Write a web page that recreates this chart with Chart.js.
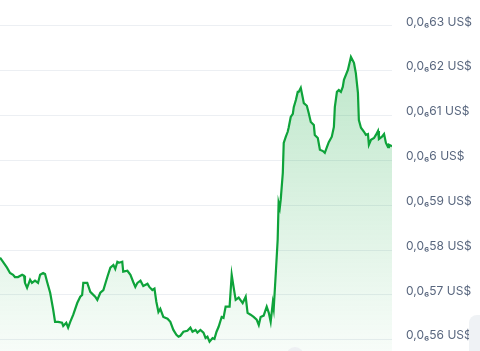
<!DOCTYPE html>
<html>
<head>
<meta charset="utf-8">
<script src="https://cdn.jsdelivr.net/npm/chart.js@4"></script>
<style>
    html, body { margin: 0; padding: 0; background: #fff; }
    #wrap { position: relative; width: 480px; height: 351px; overflow: hidden; }
    .chip { position: absolute; left: 469px; top: 315px; width: 40px; height: 60px; border-radius: 8px; background: #eff2f5; }
    .dot { position: absolute; left: 286px; top: 347px; width: 18px; height: 18px; border-radius: 50%; background: #eef0f3; }
</style>
</head>
<body>
<div id="wrap">
    <canvas id="price-chart"></canvas>
    <div class="dot"></div>
    <div class="chip"></div>
</div>
<script>
// hours since start of the 7 day window
const hours = [
    0, 1.3, 3.0, 4.3, 5.6, 6.4, 7.7, 9.5, 10.3, 10.7, 11.6, 12.9, 13.7, 15.0, 16.3, 17.2, 18.5, 19.3, 20.2, 21.5,
    22.8, 23.6, 24.9, 26.6, 27.1, 28.4, 29.2, 30.1, 31.4, 33.1, 34.4, 35.2, 35.7, 37.4, 38.7, 40.8, 41.7, 43.0, 44.3, 46.0,
    47.3, 48.6, 49.4, 50.3, 51.1, 52.4, 52.8, 54.6, 55.9, 57.1, 58.0, 58.9, 60.2, 61.4, 63.2, 64.0, 65.3, 66.2, 67.0, 67.9,
    68.7, 70.0, 71.8, 73.0, 74.3, 75.6, 76.5, 77.3, 78.6, 80.3, 81.6, 82.5, 83.8, 84.6, 85.9, 87.2, 88.1, 88.9, 89.8, 91.1,
    91.9, 92.8, 93.7, 95.0, 95.8, 96.7, 98.4, 99.3, 100.1, 101.0, 102.3, 104.0, 105.3, 106.1, 107.4, 108.7, 110.0, 110.9, 111.7, 113.0,
    114.3, 115.2, 116.0, 116.9, 117.3, 118.2, 119.0, 119.4, 119.9, 120.3, 121.2, 121.6, 122.5, 123.3, 123.7, 124.6, 125.5, 125.9, 126.8, 127.6,
    128.0, 128.9, 129.8, 130.2, 131.5, 132.3, 133.2, 134.5, 134.9, 136.2, 137.1, 138.4, 139.2, 140.1, 140.9, 142.2, 143.1, 143.5, 144.4, 145.2,
    146.1, 146.9, 147.4, 149.1, 150.4, 151.7, 152.5, 153.4, 153.8, 154.7, 156.0, 156.8, 157.7, 158.1, 159.0, 160.3, 161.1, 162.0, 162.4, 163.7,
    164.6, 165.4, 166.3, 166.7, 168.0,
];

// price in units of 0.00000001 US$
const prices = [
    57.83, 57.74, 57.61, 57.49, 57.45, 57.40, 57.40, 57.45, 57.43, 57.27, 57.16, 57.34, 57.27, 57.32, 57.27, 57.45, 57.49, 57.47, 57.29, 57.05,
    56.67, 56.40, 56.40, 56.38, 56.31, 56.38, 56.27, 56.40, 56.56, 56.82, 56.96, 57.00, 57.27, 57.27, 57.07, 56.96, 56.89, 57.05, 57.11, 57.40,
    57.61, 57.67, 57.58, 57.74, 57.72, 57.74, 57.52, 57.54, 57.45, 57.29, 57.18, 57.27, 57.32, 57.20, 57.25, 57.18, 57.11, 57.14, 56.85, 56.62,
    56.69, 56.51, 56.47, 56.40, 56.22, 56.11, 56.07, 56.09, 56.18, 56.20, 56.27, 56.18, 56.22, 56.16, 56.22, 56.16, 56.04, 56.07, 55.96, 56.04,
    56.02, 56.18, 56.29, 56.51, 56.49, 56.74, 56.74, 57.45, 57.18, 56.89, 56.94, 56.82, 56.96, 56.60, 56.56, 56.51, 56.45, 56.33, 56.51, 56.54,
    56.74, 56.60, 56.40, 56.82, 56.69, 57.49, 58.23, 59.05, 58.94, 59.12, 59.72, 60.39, 60.53, 60.64, 60.73, 60.97, 61.04, 61.19, 61.35, 61.53,
    61.53, 61.62, 61.39, 61.28, 61.22, 61.06, 60.86, 60.79, 60.57, 60.50, 60.24, 60.21, 60.17, 60.30, 60.41, 60.53, 60.75, 61.19, 61.53, 61.57,
    61.53, 61.64, 61.80, 62.02, 62.31, 62.18, 61.95, 61.51, 60.90, 60.73, 60.64, 60.57, 60.59, 60.35, 60.46, 60.50, 60.57, 60.66, 60.48, 60.53,
    60.59, 60.39, 60.30, 60.35, 60.32,
];

// y axis tick values, same units
const tickValues = [56, 57, 58, 59, 60, 61, 62, 63];

(function () {
    "use strict";

    const lineColor = "rgb(14, 163, 58)";

    const formatTick = (value) => {
        const digits = String(value).replace(/0+$/, "");
        return "0,0\u2086" + digits + " US$";
    };

    const fillGradient = (context) => {
        const { ctx, chartArea } = context.chart;
        if (!chartArea) {
            return "rgba(17, 167, 62, 0.15)";
        }
        const g = ctx.createLinearGradient(0, chartArea.top, 0, chartArea.bottom);
        g.addColorStop(0, "rgba(17, 167, 62, 0.32)");
        g.addColorStop(1, "rgba(17, 167, 62, 0.03)");
        return g;
    };

    const ctx = document.getElementById("price-chart").getContext("2d");
    new Chart(ctx, {
        type: "line",
        data: {
            datasets: [
                {
                    data: hours.map((h, i) => ({ x: h, y: prices[i] })),
                    borderColor: lineColor,
                    borderWidth: 2.2,
                    backgroundColor: fillGradient,
                    fill: "start",
                    pointRadius: 0,
                    tension: 0,
                },
            ],
        },
        options: {
            responsive: true,
            maintainAspectRatio: false,
            animation: false,
            layout: { padding: 0 },
            plugins: {
                legend: { display: false },
                tooltip: { enabled: false },
            },
            scales: {
                x: {
                    type: "linear",
                    min: 0,
                    max: 168,
                    display: false,
                },
                y: {
                    type: "linear",
                    position: "right",
                    min: 55.75,
                    max: 63.58,
                    // keep the plot full height, labels sit inside the axis strip
                    afterFit: (scale) => {
                        scale.width = 88;
                        scale.paddingTop = 0;
                        scale.paddingBottom = 0;
                    },
                    afterBuildTicks: (scale) => {
                        scale.ticks = tickValues.map((v) => ({ value: v }));
                    },
                    grid: {
                        color: "#eceff3",
                        lineWidth: 1,
                        drawTicks: false,
                    },
                    border: { display: false },
                    ticks: {
                        includeBounds: false,
                        padding: 14,
                        labelOffset: -4,
                        color: "#58667e",
                        font: { family: "Inter, 'Noto Sans', sans-serif", size: 12 },
                        callback: formatTick,
                    },
                },
            },
        },
    });
})();
</script>
</body>
</html>
